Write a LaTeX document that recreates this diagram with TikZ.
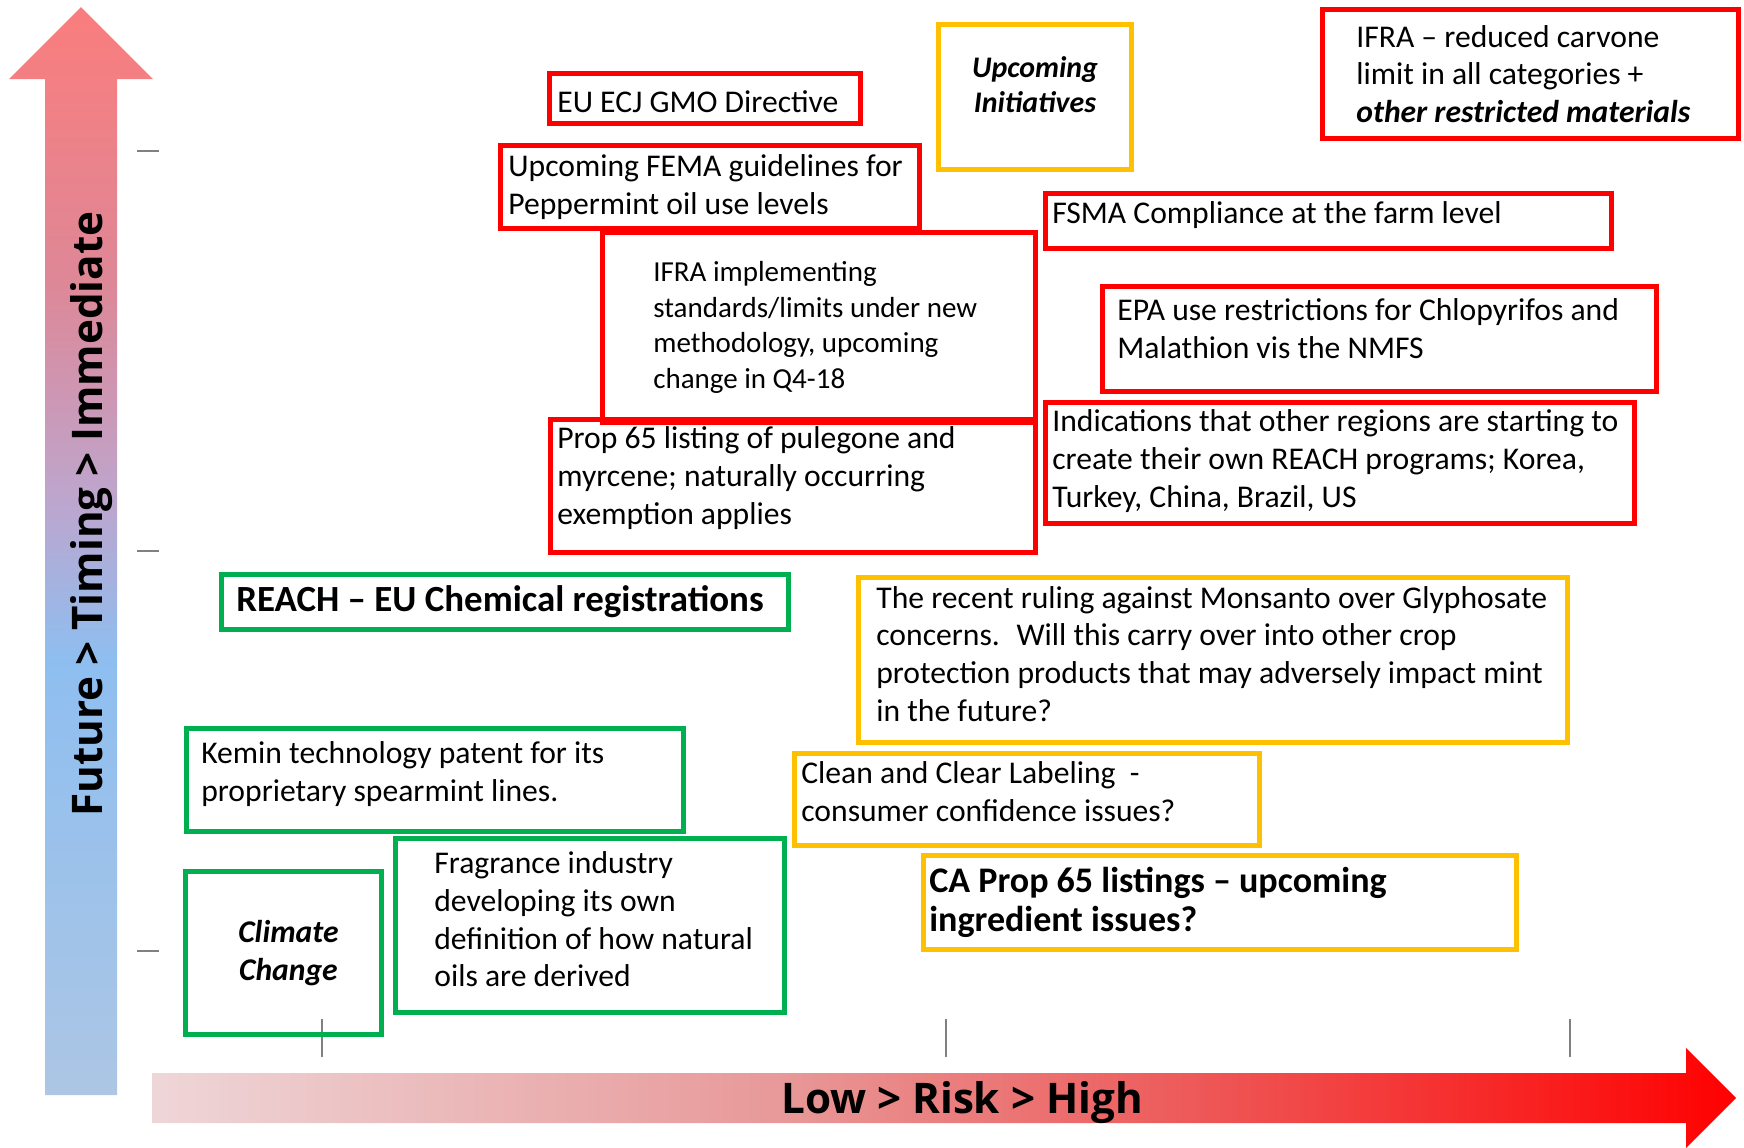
\documentclass[tikz,border=0pt]{standalone}
\usepackage{fontspec}
\setmainfont{Carlito}
\newfontfamily\axisfont{Open Sans}
\usetikzlibrary{positioning}

\definecolor{riskred}{RGB}{255,0,0}
\definecolor{riskgreen}{RGB}{0,176,80}
\definecolor{riskyellow}{RGB}{255,192,0}
\definecolor{tickgray}{RGB}{128,128,128}
% colours of the two axis arrows
\definecolor{timebot}{RGB}{172,198,228}
\definecolor{timeblue}{RGB}{142,190,240}
\definecolor{timemid}{RGB}{190,165,205}
\definecolor{timeupper}{RGB}{222,135,150}
\definecolor{timetop}{RGB}{250,125,125}
\definecolor{riskleft}{RGB}{238,214,216}
\definecolor{riskmid}{RGB}{232,152,152}
\definecolor{riskupper}{RGB}{238,88,88}
% the path is fitted to the 25bp--75bp part of a shading
\pgfdeclareverticalshading{timeshade}{100bp}{color(0bp)=(timebot); color(25bp)=(timebot); color(45bp)=(timeblue); color(52.5bp)=(timemid); color(62.5bp)=(timeupper); color(75bp)=(timetop); color(100bp)=(timetop)}
\pgfdeclarehorizontalshading{riskshade}{100bp}{color(0bp)=(riskleft); color(25bp)=(riskleft); color(45bp)=(riskmid); color(58bp)=(riskupper); color(75bp)=(riskred); color(100bp)=(riskred)}

\tikzset{
    box/.style={draw, line width=2.8pt, anchor=north west, inner sep=0pt},
    redbox/.style={box, draw=riskred},
    greenbox/.style={box, draw=riskgreen},
    yellowbox/.style={box, draw=riskyellow},
    txt/.style={align=left, inner sep=0pt, font=\fontsize{18}{21.5}\selectfont},
    axislabel/.style={inner sep=0pt, font=\axisfont\bfseries\fontsize{24}{28}\selectfont},
    tick/.style={draw=tickgray, line width=0.8pt}
}

\begin{document}
\begin{tikzpicture}[x=0.02cm, y=-0.02cm]
    \useasboundingbox (0,0) rectangle (1744,1147);

    % axes
    \shade[shading=timeshade] (45,1095) -- (45,79) -- (9,79) -- (81,7) -- (153,79) -- (117,79) -- (117,1095) -- cycle;
    \shade[shading=riskshade] (152,1073) -- (1686,1073) -- (1686,1048) -- (1736,1098) -- (1686,1148) -- (1686,1123) -- (152,1123) -- cycle;
    \node[axislabel, rotate=90, anchor=base] (timing) at (102,514) {Future > Timing > Immediate};
    \node[axislabel, anchor=base] (risk) at (962,1113) {Low > Risk > High};

    \foreach \y in {151,551,951}
        \draw[tick] (137,\y) -- (159,\y);
    \foreach \x in {322,946,1570}
        \draw[tick] (\x,1019) -- (\x,1057);

    % red boxes
    \node[redbox, minimum width=6.22cm, minimum height=1.0cm] (gmo) at (547,71) {};
    \node[txt, right=0.2cm of gmo.west, yshift=-0.06cm] (gmo-txt) {EU ECJ GMO Directive};

    \node[redbox, minimum width=8.38cm, minimum height=1.66cm] (fema) at (498,143) {};
    \node[txt, right=0.2cm of fema.west] (fema-txt) {Upcoming FEMA guidelines for\\Peppermint oil use levels};

    \node[redbox, minimum width=8.66cm, minimum height=3.8cm] (ifraimpl) at (600,230) {};
    \node[txt, font=\fontsize{16.5}{20.2}\selectfont, right=1.06cm of ifraimpl.west] (ifraimpl-txt) {IFRA implementing\\standards/limits under new\\methodology, upcoming\\change in Q4-18};

    \node[redbox, minimum width=9.7cm, minimum height=2.66cm] (prop) at (548,417) {};
    \node[txt, right=0.18cm of prop.west, yshift=0.16cm] (prop-txt) {Prop 65 listing of pulegone and\\myrcene; naturally occurring\\exemption applies};

    \node[redbox, minimum width=8.32cm, minimum height=2.58cm] (carvone) at (1320,7) {};
    \node[txt, right=0.72cm of carvone.west] (carvone-txt) {IFRA -- reduced carvone\\limit in all categories +\\\textbf{\textit{other restricted materials}}};

    \node[redbox, minimum width=11.32cm, minimum height=1.1cm] (fsma) at (1043,191) {};
    \node[txt, right=0.18cm of fsma.west, yshift=0.12cm] (fsma-txt) {FSMA Compliance at the farm level};

    \node[redbox, minimum width=11.08cm, minimum height=2.1cm] (epa) at (1100,284) {};
    \node[txt, right=0.34cm of epa.west, yshift=0.2cm] (epa-txt) {EPA use restrictions for Chlopyrifos and\\Malathion vis the NMFS};

    \node[redbox, minimum width=11.78cm, minimum height=2.42cm] (regions) at (1043,400) {};
    \node[txt, right=0.18cm of regions.west, yshift=0.04cm] (regions-txt) {Indications that other regions are starting to\\create their own REACH programs; Korea,\\Turkey, China, Brazil, US};

    % yellow boxes
    \node[yellowbox, minimum width=3.86cm, minimum height=2.9cm] (upcoming) at (936,22) {};
    \node[txt, align=center, font=\fontsize{17}{19.6}\selectfont\bfseries\itshape] (upcoming-txt) at ([yshift=0.25cm]upcoming.center) {Upcoming\\Initiatives};

    \node[yellowbox, minimum width=14.18cm, minimum height=3.3cm] (ruling) at (856,575) {};
    \node[txt, right=0.4cm of ruling.west, yshift=0.12cm] (ruling-txt) {The recent ruling against Monsanto over Glyphosate\\concerns.~ Will this carry over into other crop\\protection products that may adversely impact mint\\in the future?};

    \node[yellowbox, minimum width=9.3cm, minimum height=1.84cm] (labeling) at (792,751) {};
    \node[txt, right=0.18cm of labeling.west, yshift=0.16cm] (labeling-txt) {Clean and Clear Labeling~~-\\consumer confidence issues?};

    \node[yellowbox, minimum width=11.86cm, minimum height=1.88cm] (caprop) at (921,853) {};
    \node[txt, font=\fontsize{20.5}{22}\selectfont\bfseries, right=0.16cm of caprop.west] (caprop-txt) {CA Prop 65 listings -- upcoming\\ingredient issues?};

    % green boxes
    \node[greenbox, minimum width=11.34cm, minimum height=1.1cm] (reach) at (219,572) {};
    \node[txt, font=\fontsize{21}{25}\selectfont\bfseries, right=0.34cm of reach.west] (reach-txt) {REACH -- EU Chemical registrations};

    \node[greenbox, minimum width=9.94cm, minimum height=2.06cm] (kemin) at (184,726) {};
    \node[txt, right=0.34cm of kemin.west, yshift=0.12cm] (kemin-txt) {Kemin technology patent for its\\proprietary spearmint lines.};

    \node[greenbox, minimum width=7.78cm, minimum height=3.48cm] (fragrance) at (393,836) {};
    \node[txt, right=0.82cm of fragrance.west, yshift=0.12cm] (fragrance-txt) {Fragrance industry\\developing its own\\definition of how natural\\oils are derived};

    \node[greenbox, minimum width=3.92cm, minimum height=3.26cm] (climate) at (183,869) {};
    \node[txt, align=center, font=\fontsize{18}{22}\selectfont\bfseries\itshape] (climate-txt) at ([xshift=0.1cm]climate.center) {Climate\\Change};
\end{tikzpicture}
\end{document}
